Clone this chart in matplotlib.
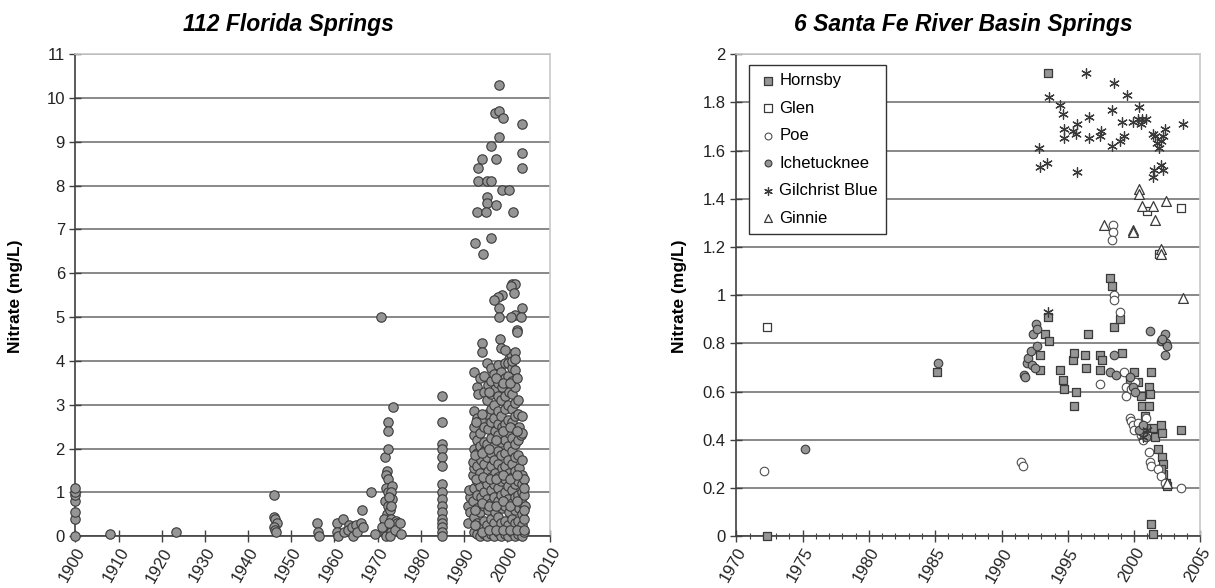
import matplotlib
matplotlib.use("Agg")
import matplotlib.pyplot as plt
from matplotlib.ticker import MultipleLocator

plt.rcParams['font.family'] = ['Liberation Sans', 'DejaVu Sans']

# ---- 112 Florida Springs (year, nitrate) ----
fl_early = [
    (1900, 0.0), (1900, 0.4), (1900, 0.55), (1900, 0.8), (1900, 0.95), (1900, 1.0), (1900, 1.1),
    (1908, 0.05), (1923.4, 0.1),
    (1946, 0.95), (1946, 0.45), (1946.3, 0.4), (1946.6, 0.3), (1946, 0.2), (1946.3, 0.15), (1946.5, 0.1),
    (1956, 0.3), (1956.2, 0.1), (1956.5, 0.0),
    (1960.5, 0.3), (1960.5, 0.1), (1960.8, 0.0), (1962, 0.4), (1962.2, 0.1), (1963.4, 0.25),
    (1963.2, 0.15), (1964, 0.2), (1964.3, 0.0), (1965, 0.25), (1965.3, 0.1), (1966.4, 0.6),
    (1966.1, 0.3), (1966.6, 0.2), (1968.5, 1.0), (1969.4, 0.05), (1970.7, 5.0),
]
fl_1970s = [
    (1971.7, 1.8), (1972.4, 2.6), (1972.4, 2.4), (1972.3, 2.0), (1972.2, 1.5), (1971.9, 1.4),
    (1972.4, 1.3), (1972.0, 1.1), (1972.5, 1.0), (1971.8, 0.8), (1972.3, 0.7), (1972.1, 0.5),
    (1971.9, 0.35), (1971.6, 0.3), (1972.2, 0.2), (1971.8, 0.1), (1972.0, 0.0), (1971.4, 0.4),
    (1973.5, 2.95), (1973.3, 1.15), (1973.0, 1.0), (1973.4, 0.85), (1972.9, 0.6), (1973.1, 0.4),
    (1973.4, 0.25), (1973.0, 0.1), (1972.8, 0.0), (1974.2, 0.35), (1974.4, 0.3), (1974.0, 0.15),
    (1975.1, 0.3), (1975.4, 0.05), (1971.0, 0.2), (1972.7, 0.9), (1973.2, 0.7), (1972.6, 0.3),
]
fl_1985 = [
    (1984.9, 3.2), (1984.9, 2.6), (1984.9, 2.1), (1985.0, 2.0), (1984.9, 1.8), (1984.9, 1.6),
    (1985.0, 1.2), (1984.9, 1.0), (1984.9, 0.85), (1985.0, 0.7), (1984.9, 0.55), (1984.9, 0.4),
    (1985.0, 0.3), (1984.9, 0.2), (1984.9, 0.1), (1984.9, 0.0),
]
fl_high = [
    (1998.2, 10.3), (1997.2, 9.65), (1998.2, 9.7), (1999.1, 9.55), (1998.2, 9.1), (2003.4, 9.4),
    (2003.4, 8.75), (2003.4, 8.4), (1996.3, 8.9), (1994.2, 8.6), (1997.3, 8.6), (1993.3, 8.4),
    (1993.3, 8.1), (1995.4, 8.1), (1996.3, 8.1), (1998.9, 7.9), (2000.4, 7.9), (1995.4, 7.75),
    (1995.4, 7.6), (1997.3, 7.55), (1992.9, 7.4), (1995.1, 7.4), (2001.3, 7.4), (1996.3, 6.8),
    (1992.6, 6.7), (1994.4, 6.45), (2001.1, 5.75), (2001.8, 5.75), (2000.9, 5.7), (2001.6, 5.55),
    (1998.7, 5.5), (1997.8, 5.45), (1997.0, 5.4), (1998.2, 5.2), (1998.0, 5.0), (2003.4, 5.2),
    (2001.8, 5.05), (2000.8, 5.0), (2003.2, 5.0), (2002.2, 4.7), (2002.2, 4.65), (1998.4, 4.5),
    (1994.2, 4.4), (1994.2, 4.2), (1998.6, 4.3), (2000.5, 4.05), (2000.9, 4.15), (2001.8, 4.2),
]
fl_body = [
    (1991.0, 0.3), (1991.0, 0.7), (1991.3, 0.9), (1991.2, 1.05), (1991.5, 0.55),
    (1992.2, 0.1), (1992.2, 0.45), (1992.0, 0.8), (1992.2, 1.1), (1992.0, 1.4), (1992.3, 1.55),
    (1992.1, 1.7), (1992.2, 2.0), (1992.4, 2.3), (1992.2, 2.5), (1992.2, 2.85), (1992.3, 3.75),
    (1993.0, 0.05), (1993.0, 0.3), (1993.0, 0.65), (1993.1, 0.95), (1993.0, 1.25), (1993.1, 1.6),
    (1993.0, 1.9), (1993.0, 2.2), (1993.1, 2.7), (1993.0, 3.4), (1993.2, 3.25),
    (1993.8, 0.0), (1993.8, 0.2), (1993.8, 0.55), (1993.9, 0.9), (1993.8, 1.15), (1993.8, 1.45),
    (1993.9, 1.75), (1993.8, 2.05), (1993.8, 2.35), (1993.9, 2.65), (1993.8, 3.6),
    (1994.6, 0.05), (1994.6, 0.35), (1994.7, 0.7), (1994.6, 1.0), (1994.6, 1.3), (1994.7, 1.65),
    (1994.6, 1.95), (1994.6, 2.15), (1994.7, 2.5), (1994.6, 3.3), (1994.6, 3.65),
    (1995.4, 0.0), (1995.4, 0.25), (1995.5, 0.6), (1995.4, 0.85), (1995.4, 1.2), (1995.5, 1.5),
    (1995.4, 1.8), (1995.4, 2.1), (1995.5, 2.45), (1995.4, 2.8), (1995.4, 3.1), (1995.5, 3.45),
    (1995.4, 3.95),
    (1996.2, 0.05), (1996.2, 0.4), (1996.3, 0.75), (1996.2, 1.05), (1996.2, 1.35), (1996.3, 1.6),
    (1996.2, 1.9), (1996.2, 2.25), (1996.3, 2.6), (1996.2, 2.9), (1996.2, 3.25), (1996.3, 3.55),
    (1996.2, 3.85),
    (1997.0, 0.0), (1997.0, 0.3), (1997.1, 0.55), (1997.0, 0.9), (1997.0, 1.2), (1997.1, 1.45),
    (1997.0, 1.75), (1997.0, 2.05), (1997.1, 2.4), (1997.0, 2.7), (1997.0, 3.0), (1997.1, 3.35),
    (1997.0, 3.7),
    (1997.8, 0.1), (1997.8, 0.45), (1997.9, 0.8), (1997.8, 1.1), (1997.8, 1.35), (1997.9, 1.65),
    (1997.8, 1.95), (1997.8, 2.3), (1997.9, 2.55), (1997.8, 2.85), (1997.8, 3.2), (1997.9, 3.5),
    (1997.8, 3.9),
    (1998.6, 0.0), (1998.6, 0.3), (1998.7, 0.65), (1998.6, 0.95), (1998.6, 1.25), (1998.7, 1.55),
    (1998.6, 1.85), (1998.6, 2.15), (1998.7, 2.5), (1998.6, 2.75), (1998.6, 3.1), (1998.7, 3.4),
    (1998.6, 3.75),
    (1999.4, 0.05), (1999.4, 0.35), (1999.5, 0.7), (1999.4, 1.0), (1999.4, 1.3), (1999.5, 1.6),
    (1999.4, 1.9), (1999.4, 2.2), (1999.5, 2.55), (1999.4, 2.9), (1999.4, 3.2), (1999.5, 3.6),
    (1999.4, 3.95), (1999.6, 4.25),
    (2000.2, 0.0), (2000.2, 0.25), (2000.3, 0.55), (2000.2, 0.85), (2000.2, 1.15), (2000.3, 1.45),
    (2000.2, 1.75), (2000.2, 2.05), (2000.3, 2.35), (2000.2, 2.65), (2000.2, 3.0), (2000.3, 3.3),
    (2000.2, 3.65), (2000.2, 3.95),
    (2001.0, 0.1), (2001.0, 0.4), (2001.1, 0.75), (2001.0, 1.05), (2001.0, 1.35), (2001.1, 1.65),
    (2001.0, 1.95), (2001.0, 2.25), (2001.1, 2.6), (2001.0, 2.9), (2001.0, 3.25), (2001.1, 3.55),
    (2001.0, 3.85), (2001.2, 4.0),
    (2001.8, 0.0), (2001.8, 0.3), (2001.9, 0.6), (2001.8, 0.9), (2001.8, 1.2), (2001.9, 1.5),
    (2001.8, 1.8), (2001.8, 2.1), (2001.9, 2.45), (2001.8, 2.75), (2001.8, 3.05), (2001.9, 3.4),
    (2001.8, 3.8), (2001.9, 4.05),
    (2002.6, 0.05), (2002.6, 0.35), (2002.7, 0.65), (2002.6, 0.95), (2002.6, 1.25), (2002.7, 1.55),
    (2002.6, 1.85), (2002.6, 2.2), (2002.7, 2.5), (2002.6, 2.8), (2002.6, 3.1),
    (2003.4, 0.0), (2003.4, 0.25), (2003.5, 0.5), (2003.4, 0.75), (2003.4, 1.0), (2003.5, 1.2),
    (2003.4, 1.4), (2003.4, 1.75), (2003.3, 2.3), (2003.5, 2.35), (2003.4, 2.75),
    (2004.0, 0.1), (2004.0, 0.4), (2004.1, 0.7), (2004.0, 0.95), (2004.0, 1.3),
    (1992.6, 0.25), (1992.6, 0.6), (1992.7, 1.3), (1992.6, 1.85), (1992.7, 2.6),
    (1994.2, 0.1), (1994.2, 0.75), (1994.3, 1.35), (1994.2, 1.9), (1994.2, 2.8),
    (1995.8, 0.15), (1995.8, 0.7), (1995.9, 1.3), (1995.8, 2.0), (1995.8, 3.3),
    (1997.4, 0.15), (1997.4, 0.7), (1997.5, 1.3), (1997.4, 2.2), (1997.4, 3.6),
    (1999.0, 0.15), (1999.0, 0.8), (1999.1, 1.4), (1999.0, 2.4), (1999.0, 3.5),
    (2000.6, 0.15), (2000.6, 0.7), (2000.7, 1.3), (2000.6, 2.5), (2000.6, 3.5),
    (2002.2, 0.15), (2002.2, 0.8), (2002.3, 1.4), (2002.2, 2.4), (2002.2, 3.6),
    (2003.8, 0.15), (2003.8, 0.6), (2003.9, 1.1),
]

# ---- 6 Santa Fe River Basin Springs (year, nitrate) ----
hornsby = [
    (1972.3, 0.0), (1985.1, 0.68), (1993.5, 1.92), (1993.5, 0.91), (1993.3, 0.84), (1993.6, 0.81),
    (1992.9, 0.75), (1992.9, 0.69), (1994.4, 0.69), (1994.6, 0.65), (1994.7, 0.61), (1995.6, 0.60),
    (1995.5, 0.54), (1995.4, 0.73), (1995.5, 0.76), (1996.5, 0.84), (1996.3, 0.75), (1996.4, 0.70),
    (1997.4, 0.75), (1997.6, 0.73), (1997.4, 0.69), (1998.2, 1.07), (1998.3, 1.04), (1998.5, 0.87),
    (1998.9, 0.90), (1999.1, 0.76), (1999.8, 0.63), (2000.0, 0.68), (2000.3, 0.64), (2000.5, 0.58),
    (2000.6, 0.54), (2000.8, 0.50), (2001.1, 0.62), (2001.2, 0.59), (2001.3, 0.68), (2001.1, 0.54),
    (2001.4, 0.45), (2001.6, 0.41), (2002.0, 0.46), (2002.1, 0.43), (2001.8, 0.36), (2002.1, 0.33),
    (2002.2, 0.30), (2002.2, 0.26), (2002.4, 0.22), (2002.5, 0.21), (2001.3, 0.05), (2001.4, 0.01),
    (2003.5, 0.44), (2000.9, 0.45), (2002.0, 0.28), (1999.7, 0.65),
]
glen = [(1972.3, 0.87), (2003.5, 1.36), (2001.9, 1.17), (2001.0, 1.35)]
poe = [
    (1972.1, 0.27), (1991.5, 0.31), (1991.6, 0.29), (1997.4, 0.63), (1998.4, 1.29), (1998.4, 1.26),
    (1998.3, 1.23), (1998.5, 1.00), (1998.5, 0.98), (1998.9, 0.93), (1999.2, 0.68), (1999.4, 0.62),
    (1999.4, 0.58), (1999.7, 0.49), (1999.8, 0.48), (1999.9, 0.46), (2000.0, 0.44), (2000.3, 0.47),
    (2000.5, 0.42), (2000.7, 0.40), (2000.9, 0.49), (2001.1, 0.35), (2001.2, 0.31), (2001.3, 0.29),
    (2001.8, 0.28), (2002.0, 0.25), (2002.3, 0.22), (2003.5, 0.20), (2000.1, 0.64), (1999.8, 0.61),
]
ichetucknee = [
    (1975.2, 0.36), (1985.2, 0.72), (1991.7, 0.67), (1991.8, 0.66), (1991.9, 0.72), (1992.0, 0.74),
    (1992.2, 0.77), (1992.3, 0.71), (1992.5, 0.70), (1992.4, 0.84), (1992.6, 0.88), (1992.7, 0.86),
    (1992.7, 0.79), (1998.5, 0.75), (1998.2, 0.68), (1998.6, 0.67), (1999.7, 0.66), (1999.9, 0.62),
    (2000.1, 0.60), (2001.2, 0.85), (2002.0, 0.81), (2002.3, 0.84), (2002.4, 0.80), (2002.3, 0.75),
    (2002.5, 0.79), (2002.1, 0.82), (2000.4, 0.44), (2000.9, 0.41), (2000.7, 0.46),
]
gilchrist = [
    (1992.85, 1.61), (1992.9, 1.53), (1993.4, 1.55), (1993.6, 1.82), (1994.4, 1.79), (1994.6, 1.75),
    (1994.7, 1.69), (1994.7, 1.65), (1995.4, 1.68), (1995.6, 1.67), (1995.7, 1.71), (1995.7, 1.51),
    (1996.4, 1.92), (1996.6, 1.74), (1996.6, 1.65), (1997.4, 1.66), (1997.5, 1.68), (1998.3, 1.77),
    (1998.5, 1.88), (1998.3, 1.62), (1998.9, 1.64), (1999.2, 1.66), (1999.1, 1.72), (1999.5, 1.83),
    (1999.9, 1.72), (2000.3, 1.73), (2000.4, 1.78), (2000.5, 1.71), (2000.6, 1.73), (2000.9, 1.73),
    (2001.4, 1.67), (2001.6, 1.66), (2001.7, 1.63), (2001.9, 1.61), (2002.0, 1.64), (2002.2, 1.66),
    (2002.3, 1.69), (2001.5, 1.52), (2001.4, 1.49), (2002.0, 1.54), (2002.2, 1.52), (2003.7, 1.71),
    (1993.5, 0.93), (2000.7, 0.41), (2001.0, 0.44),
]
ginnie = [
    (1997.7, 1.29), (1999.9, 1.27), (1999.9, 1.26), (2000.4, 1.44), (2000.4, 1.42), (2000.6, 1.37),
    (2001.4, 1.37), (2001.6, 1.31), (2002.4, 1.39), (2002.0, 1.19), (2002.0, 1.17), (2003.7, 0.99),
    (2002.5, 0.22),
]

grid_col = '#7f7f7f'
edge = '#3a3a3a'
fill = '#959595'

fig = plt.figure(figsize=(12.15, 5.88), dpi=100)
ax1 = fig.add_axes([0.062, 0.088, 0.391, 0.820])
ax2 = fig.add_axes([0.606, 0.088, 0.382, 0.820])


def style_axes(ax):
    ax.set_axisbelow(True)
    ax.yaxis.grid(True, color=grid_col, linewidth=1.3)
    for side in ['top', 'right']:
        ax.spines[side].set_color('#c8c8c8')
        ax.spines[side].set_linewidth(1.2)
    for side in ['left', 'bottom']:
        ax.spines[side].set_color('#404040')
        ax.spines[side].set_linewidth(1.2)
    ax.tick_params(axis='both', which='major', direction='inout', length=9, width=1.0,
                   color='#404040', labelsize=12, labelcolor='#222222')
    ax.tick_params(axis='x', which='minor', direction='inout', length=5, width=0.8, color='#404040')
    ax.tick_params(axis='y', pad=3)
    ax.tick_params(axis='x', pad=2)
    for lab in ax.get_xticklabels():
        lab.set_rotation(60)
        lab.set_ha('right')
        lab.set_va('top')
        lab.set_rotation_mode('anchor')


# left panel
everything = fl_early + fl_1970s + fl_1985 + fl_high + fl_body
ax1.scatter([p[0] for p in everything], [p[1] for p in everything], s=46, c=fill,
            edgecolors=edge, linewidths=0.8, clip_on=False, zorder=3)
ax1.set_xlim(1900, 2010)
ax1.set_ylim(0, 11)
ax1.xaxis.set_major_locator(MultipleLocator(10))
ax1.yaxis.set_major_locator(MultipleLocator(1))
style_axes(ax1)

# right panel
series = [
    ('Hornsby', hornsby, dict(marker='s', c=fill, edgecolors=edge, linewidths=0.9, s=40)),
    ('Glen', glen, dict(marker='s', c='white', edgecolors=edge, linewidths=0.9, s=40)),
    ('Poe', poe, dict(marker='o', c='white', edgecolors='#505050', linewidths=0.8, s=38)),
    ('Ichetucknee', ichetucknee, dict(marker='o', c=fill, edgecolors=edge, linewidths=0.8, s=38)),
    ('Gilchrist Blue', gilchrist, dict(marker=(6, 2, 0), c='#3a3a3a', linewidths=0.9, s=48)),
    ('Ginnie', ginnie, dict(marker='^', c='white', edgecolors=edge, linewidths=0.9, s=50)),
]
for name, pts, kw in series:
    ax2.scatter([p[0] for p in pts], [p[1] for p in pts], label=name, clip_on=False, zorder=3, **kw)
ax2.set_xlim(1970, 2005)
ax2.set_ylim(0, 2)
ax2.xaxis.set_major_locator(MultipleLocator(5))
ax2.xaxis.set_minor_locator(MultipleLocator(1))
ax2.yaxis.set_major_locator(MultipleLocator(0.2))
ax2.yaxis.set_major_formatter(plt.FuncFormatter(lambda v, p: '%g' % round(v, 1)))
style_axes(ax2)

leg = ax2.legend(loc='upper left', bbox_to_anchor=(0.01, 0.995), fontsize=12, frameon=True,
                 fancybox=False, edgecolor='#333333', framealpha=1, borderpad=0.5,
                 labelspacing=0.75, handletextpad=0.1, handlelength=1.2, markerscale=0.8)
leg.get_frame().set_linewidth(1.0)

fig.text(0.237, 0.958, '112 Florida Springs', ha='center', va='center', fontsize=16.5,
         fontweight='bold', fontstyle='italic')
fig.text(0.793, 0.958, '6 Santa Fe River Basin Springs', ha='center', va='center', fontsize=16.5,
         fontweight='bold', fontstyle='italic')
fig.text(0.0125, 0.497, 'Nitrate (mg/L)', rotation=90, ha='center', va='center', fontsize=12.5,
         fontweight='bold')
fig.text(0.559, 0.497, 'Nitrate (mg/L)', rotation=90, ha='center', va='center', fontsize=12.5,
         fontweight='bold')

fig.savefig('out.png', dpi=100)
